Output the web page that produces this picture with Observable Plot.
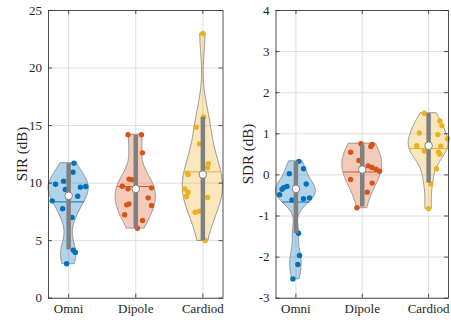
<!DOCTYPE html>
<html><head><meta charset="utf-8">
<script src="https://cdn.jsdelivr.net/npm/d3@7"></script>
<script src="https://cdn.jsdelivr.net/npm/@observablehq/plot@0.6"></script>
<style>
body{margin:0;background:#fff;}
#wrap{position:relative;width:451px;height:320px;overflow:hidden;background:#fff;}
#wrap svg{position:absolute;top:0;overflow:visible;}
#wrap svg, #wrap svg text{font-family:"Liberation Serif",serif !important;font-size:13px !important;}
.ylab{position:absolute;transform:translate(-50%,-50%) rotate(-90deg);white-space:nowrap;font:15px "Liberation Serif",serif;color:#262626;}
</style></head><body><div id="wrap"></div>
<script>
const categories = ["Omni", "Dipole", "Cardiod"];
const colors = ["#0072BD", "#D95319", "#EDB120"];

// SIR (dB)
const sirOmni = [11.73, 10.95, 10.17, 9.9, 9.65, 9.7, 9.45, 8.86, 8.46, 7.77, 7.01, 4.17, 3.97, 2.99];
const sirOmniJitter = [0.08, 0.065, -0.075, -0.195, 0.175, 0.255, -0.05, 0.135, -0.245, -0.09, 0.05, 0.07, 0.1, -0.03];
const sirDipole = [14.2, 14.2, 12.63, 10.35, 10.3, 9.73, 9.59, 9.5, 8.72, 8.2, 8.11, 8.05, 7.25, 6.75, 6.08];
const sirDipoleJitter = [-0.115, 0.085, 0.1, -0.1, -0.06, -0.2, 0.235, -0.115, 0.185, -0.1, -0.135, 0.235, -0.165, 0.1, 0.025];
const sirCardiod = [23.0, 15.75, 14.86, 13.41, 11.68, 11.33, 10.86, 10.75, 9.5, 9.21, 8.84, 8.76, 7.56, 7.47, 5.01];
const sirCardiodJitter = [0, 0.01, -0.1, -0.05, 0.08, 0.07, -0.23, -0.22, -0.27, -0.22, -0.245, 0.07, -0.05, -0.115, 0.035];
const sirMedian = [8.9, 9.5, 10.75];
const sirMean = [8.37, 9.7, 10.98];
const sirBoxLo = [4.2, 6.05, 5.0];
const sirBoxHi = [11.7, 14.15, 15.7];
const sirTicks = [0, 5, 10, 15, 20, 25];

// SDR (dB)
const sdrOmni = [0.33, 0.15, 0.03, -0.22, -0.28, -0.31, -0.35, -0.48, -0.61, -0.58, -0.56, -1.42, -1.96, -2.18, -2.53];
const sdrOmniJitter = [0.045, 0.115, -0.1, 0.155, -0.135, -0.185, -0.21, -0.245, -0.06, 0.115, 0.205, 0.04, 0.055, 0.03, -0.045];
const sdrDipole = [0.76, 0.74, 0.69, 0.55, 0.35, 0.22, 0.18, 0.14, 0.09, -0.11, -0.2, -0.42, -0.8];
const sdrDipoleJitter = [-0.02, 0.15, 0.13, -0.175, -0.05, 0.09, 0.145, 0.205, 0.26, -0.175, 0.15, 0.075, -0.08];
const sdrCardiod = [1.5, 1.31, 1.2, 1.02, 0.98, 0.88, 0.71, 0.7, 0.58, 0.55, 0.5, 0.15, -0.22, -0.82];
const sdrCardiodJitter = [-0.065, 0.17, 0.2, -0.14, 0.14, 0.285, -0.18, 0.185, -0.065, 0.15, 0.17, 0.12, 0.035, 0];
const sdrMedian = [-0.34, 0.13, 0.71];
const sdrMean = [-0.66, 0.07, 0.64];
const sdrBoxLo = [-1.43, -0.78, -0.2];
const sdrBoxHi = [0.32, 0.72, 1.49];
const sdrTicks = [-3, -2, -1, 0, 1, 2, 3, 4];

function kde(values) {
  const n = values.length;
  const med = d3.median(values);
  const mad = d3.median(values, v => Math.abs(v - med));
  const bw = (mad / 0.6745) * Math.pow(4 / (3 * n), 0.2);
  const lo = d3.min(values), hi = d3.max(values);
  const ys = d3.range(101).map(i => lo + (hi - lo) * i / 100);
  const dens = ys.map(y => d3.sum(values, v => Math.exp(-0.5 * ((y - v) / bw) ** 2)));
  const m = d3.max(dens);
  const w = dens.map(d => 0.3 * d / m);
  const at = y => {
    const t = (y - lo) / (hi - lo) * 100;
    const i = Math.max(0, Math.min(99, Math.floor(t)));
    const f = t - i;
    return w[i] * (1 - f) + w[i + 1] * f;
  };
  return {ys, w, at};
}

function panel({groups, jitters, medians, means, boxLo, boxHi, yDomain, yTicks, width, marginLeft, marginRight}) {
  const marginTop = 10, marginBottom = 22.3, height = 320;
  const plotW = width - marginLeft - marginRight, plotH = height - marginTop - marginBottom;
  const grid = "#dfdfdf", axisCol = "#262626";
  const marks = [
    Plot.gridY(yTicks, {stroke: grid, strokeOpacity: 1}),
    Plot.gridX([1, 2, 3], {stroke: grid, strokeOpacity: 1})
  ];
  groups.forEach((vals, i) => {
    const c = i + 1;
    const k = kde(vals);
    const rows = k.ys.map((y, j) => ({y, x1: c - k.w[j], x2: c + k.w[j]}));
    marks.push(Plot.areaX(rows, {y: "y", x1: "x1", x2: "x2", fill: colors[i], fillOpacity: 0.3, stroke: "#808080", strokeWidth: 0.8}));
    const pts = vals.map((v, j) => ({x: c + jitters[i][j], y: v}));
    marks.push(Plot.dot(pts, {x: "x", y: "y", r: 2.7, fill: colors[i], stroke: "none"}));
    const wm = k.at(means[i]);
    marks.push(Plot.link([means[i]], {x1: c - wm, x2: c + wm, y1: d => d, y2: d => d, stroke: colors[i], strokeWidth: 1}));
    marks.push(Plot.ruleX([c], {x: d => d, y1: boxLo[i], y2: boxHi[i], stroke: "#808080", strokeWidth: 4.5}));
    marks.push(Plot.dot([medians[i]], {x: c, y: d => d, r: 3.8, fill: "white", stroke: "#808080", strokeWidth: 1}));
  });
  marks.push(
    Plot.frame({stroke: axisCol, strokeWidth: 0.8}),
    Plot.tickY(yTicks, {y: d => d, insetRight: plotW - 4, stroke: axisCol, strokeWidth: 0.8}),
    Plot.tickY(yTicks, {y: d => d, insetLeft: plotW - 4, stroke: axisCol, strokeWidth: 0.8}),
    Plot.tickX([1, 2, 3], {x: d => d, insetTop: plotH - 4, stroke: axisCol, strokeWidth: 0.8}),
    Plot.tickX([1, 2, 3], {x: d => d, insetBottom: plotH - 4, stroke: axisCol, strokeWidth: 0.8}),
    Plot.axisY(yTicks, {anchor: "left", tickSize: 0, tickPadding: 6.5, tickFormat: d => String(d), label: null, fill: axisCol}),
    Plot.axisX([1, 2, 3], {anchor: "bottom", tickSize: 0, tickPadding: 6, tickFormat: d => categories[d - 1], label: null, fill: axisCol})
  );
  return Plot.plot({
    width, height, marginLeft, marginRight, marginTop, marginBottom,
    x: {domain: [0.7, 3.3]},
    y: {domain: yDomain},
    style: {background: "transparent", overflow: "visible"},
    marks
  });
}

const wrap = document.getElementById("wrap");
const left = panel({
  groups: [sirOmni, sirDipole, sirCardiod],
  jitters: [sirOmniJitter, sirDipoleJitter, sirCardiodJitter],
  medians: sirMedian, means: sirMean, boxLo: sirBoxLo, boxHi: sirBoxHi,
  yDomain: [0, 25], yTicks: sirTicks, width: 225, marginLeft: 48, marginRight: 2.5
});
left.style.left = "0px";
wrap.appendChild(left);
const right = panel({
  groups: [sdrOmni, sdrDipole, sdrCardiod],
  jitters: [sdrOmniJitter, sdrDipoleJitter, sdrCardiodJitter],
  medians: sdrMedian, means: sdrMean, boxLo: sdrBoxLo, boxHi: sdrBoxHi,
  yDomain: [-3, 4], yTicks: sdrTicks, width: 226, marginLeft: 50.5, marginRight: 3
});
right.style.left = "225px";
wrap.appendChild(right);

const l1 = document.createElement("div");
l1.className = "ylab"; l1.textContent = "SIR (dB)";
l1.style.left = "22px"; l1.style.top = "154px";
wrap.appendChild(l1);
const l2 = document.createElement("div");
l2.className = "ylab"; l2.textContent = "SDR (dB)";
l2.style.left = "248px"; l2.style.top = "154px";
wrap.appendChild(l2);
</script></body></html>
